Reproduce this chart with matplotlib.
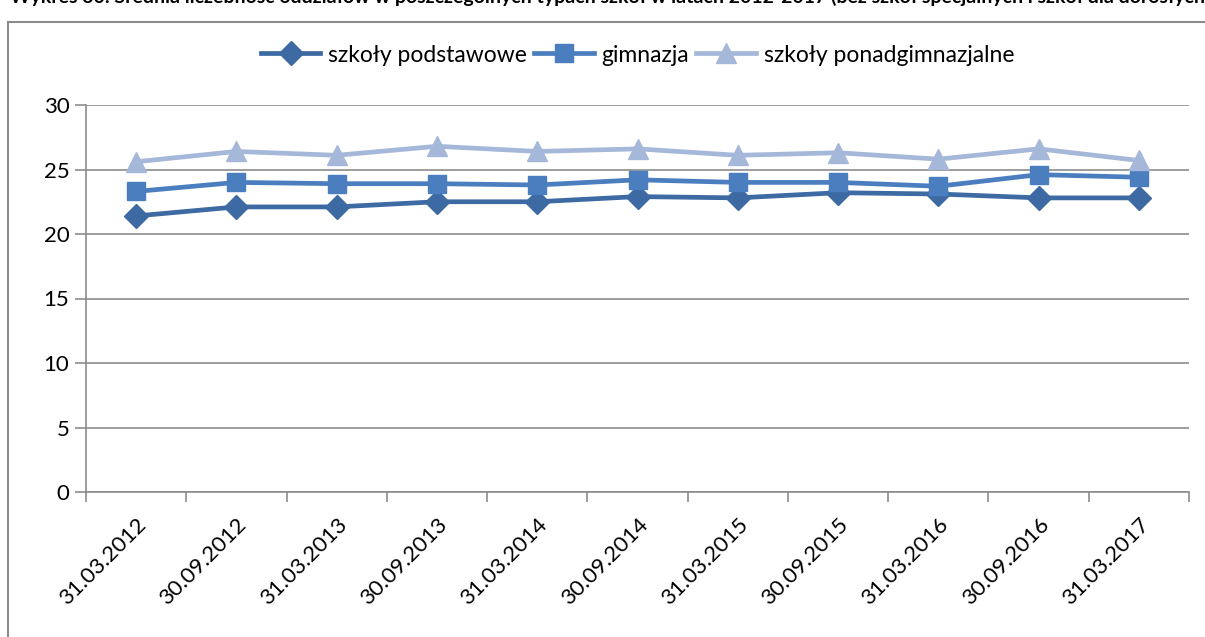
import matplotlib.pyplot as plt
from matplotlib.patches import Rectangle

plt.rcParams['font.family'] = ['Lato', 'DejaVu Sans']

dates = ['31.03.2012', '30.09.2012', '31.03.2013', '30.09.2013', '31.03.2014',
         '30.09.2014', '31.03.2015', '30.09.2015', '31.03.2016', '30.09.2016',
         '31.03.2017']
podstawowe = [21.4, 22.1, 22.1, 22.5, 22.5, 22.9, 22.8, 23.2, 23.1, 22.8, 22.8]
gimnazja = [23.3, 24.0, 23.9, 23.9, 23.8, 24.2, 24.0, 24.0, 23.7, 24.6, 24.4]
ponadgim = [25.6, 26.4, 26.1, 26.8, 26.4, 26.6, 26.1, 26.3, 25.8, 26.6, 25.7]

W, H = 1205, 637
fig = plt.figure(figsize=(W / 100, H / 100), dpi=100)

# chart frame (runs off the right/bottom edge)
fig.patches.append(Rectangle((8 / W, -0.1), 1.2, 1 - 22 / H + 0.1,
                             transform=fig.transFigure, fill=False,
                             ec='#8c8c8c', lw=1.5))

# title is cut off at the top edge in the source image
fig.text(10 / W, 1.0 + 5 / H,
         'Wykres 30. Średnia liczebność oddziałów w poszczególnych typach szkół '
         'w latach 2012-2017 (bez szkół specjalnych i szkół dla dorosłych)',
         fontsize=14, fontweight='bold', va='center', ha='left')

ax = fig.add_axes([86 / W, 1 - 492 / H, (1189 - 86) / W, (492 - 105) / H])
x = range(len(dates))
ax.plot(x, podstawowe, color='#3d6aa3', lw=3.4, marker='D', ms=12,
        label='szkoły podstawowe', zorder=3)
ax.plot(x, gimnazja, color='#4a7ebf', lw=3.4, marker='s', ms=13,
        label='gimnazja', zorder=3)
ax.plot(x, ponadgim, color='#a6b8d9', lw=3.4, marker='^', ms=14,
        label='szkoły ponadgimnazjalne', zorder=3)

ax.set_xlim(-0.5, len(dates) - 0.5)
ax.set_ylim(0, 30)
ax.set_yticks(range(0, 31, 5))
ax.yaxis.grid(True, color='#8c8c8c', lw=1.2)
ax.set_axisbelow(True)

ax.set_xticks([i - 0.5 for i in range(len(dates) + 1)])
ax.set_xticklabels([])
ax.set_xticks(list(x), minor=True)
ax.set_xticklabels(dates, minor=True, rotation=45, ha='right',
                   rotation_mode='anchor', fontsize=16)
ax.tick_params(axis='x', which='minor', length=0, pad=16)
ax.tick_params(axis='x', which='major', length=7, width=1.2, color='#8c8c8c')
ax.tick_params(axis='y', length=8, width=1.2, color='#8c8c8c', labelsize=16, pad=4)

for s in ['top', 'right']:
    ax.spines[s].set_visible(False)
for s in ['left', 'bottom']:
    ax.spines[s].set_color('#8c8c8c')
    ax.spines[s].set_linewidth(1.2)

ax.legend(loc='center', bbox_to_anchor=(0.5, 1.0 + 50 / 387), ncol=3,
          frameon=False, fontsize=16.5, handlelength=2.6, handletextpad=0.35,
          columnspacing=0.3)

fig.savefig('out.png', dpi=100)
